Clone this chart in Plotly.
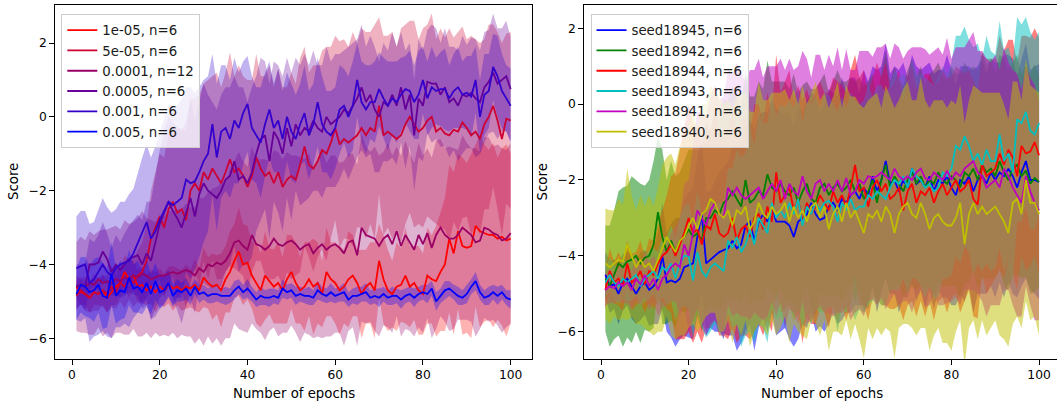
import numpy as np
import plotly.graph_objects as go

epochs = list(range(1, 101))

# ---------------- left panel: learning rates ----------------
lr_labels = ["1e-05, n=6", "5e-05, n=6", "0.0001, n=12", "0.0005, n=6", "0.001, n=6", "0.005, n=6"]

mean_1e05 = [-4.6,-4.75,-4.8,-4.9,-4.75,-4.8,-4.7,-4.9,-4.75,-4.6,
 -4.5,-4.2,-4.4,-4.3,-4.6,-4.55,-4.7,-4.6,-4.75,-4.6,
 -4.7,-4.55,-4.65,-4.6,-4.7,-4.6,-4.65,-4.55,-4.7,-4.35,
 -4.5,-4.6,-4.55,-4.7,-4.4,-4.2,-3.9,-3.65,-4.0,-3.95,
 -4.3,-4.5,-4.7,-4.3,-4.45,-4.6,-4.5,-4.7,-4.4,-4.2,
 -4.5,-4.7,-4.6,-4.4,-4.6,-4.5,-4.8,-4.2,-4.4,-4.5,
 -4.7,-4.6,-4.4,-4.3,-4.5,-4.8,-4.6,-4.5,-4.7,-3.9,
 -4.4,-4.7,-4.8,-4.6,-4.55,-4.3,-4.6,-4.5,-4.7,-4.8,
 -4.3,-4.4,-4.45,-4.2,-4.0,-3.3,-3.7,-3.1,-3.5,-3.55,
 -3.5,-2.95,-3.1,-3.15,-3.2,-3.2,-3.3,-3.25,-3.35,-3.3]
mean_5e05 = [-4.85,-4.7,-4.8,-4.9,-4.75,-4.8,-4.7,-4.8,-4.6,-4.75,
 -4.5,-4.6,-4.4,-4.5,-4.3,-4.2,-3.9,-3.3,-3.0,-2.7,
 -3.0,-2.5,-2.3,-2.6,-2.5,-2.8,-2.0,-1.8,-2.0,-1.5,
 -1.7,-1.4,-1.6,-1.8,-1.5,-1.15,-1.5,-1.4,-1.6,-1.9,
 -1.6,-1.1,-1.4,-1.6,-1.5,-1.8,-1.5,-1.9,-1.7,-1.6,
 -1.7,-1.3,-0.8,-1.3,-1.4,-1.2,-0.9,-1.0,-0.7,-0.3,
 -0.75,-0.6,-0.7,-0.6,-0.5,-0.3,-0.5,-0.3,-0.4,0.3,
 -0.5,-0.4,-0.5,-0.6,-0.5,-0.2,0.0,-0.2,-0.4,-0.3,
 -0.1,0.0,-0.4,-0.3,-0.45,-0.5,-0.35,-0.4,-0.15,-0.3,
 -0.5,-0.4,-0.6,-0.2,0.0,0.3,-0.1,-0.6,-0.05,-0.1]
mean_1e04 = [-4.6,-4.55,-4.6,-4.5,-4.55,-4.4,-4.5,-4.45,-4.5,-4.4,
 -4.45,-4.35,-4.4,-4.3,-4.35,-4.25,-4.3,-4.4,-4.35,-4.3,
 -4.3,-4.25,-4.2,-4.25,-4.2,-4.15,-4.2,-4.3,-4.1,-4.2,
 -4.0,-4.05,-3.95,-4.0,-3.9,-3.7,-3.4,-3.35,-3.5,-3.6,
 -3.2,-3.45,-3.5,-3.6,-3.5,-3.3,-3.45,-3.5,-3.4,-3.35,
 -3.45,-3.6,-3.5,-3.45,-3.7,-3.55,-3.45,-3.6,-3.5,-3.45,
 -3.55,-3.7,-3.4,-3.35,-3.75,-3.0,-3.2,-3.25,-3.3,-3.5,
 -3.3,-3.2,-3.45,-3.1,-3.5,-3.2,-3.4,-3.6,-3.2,-3.45,
 -3.15,-3.55,-3.2,-3.0,-3.2,-3.3,-3.3,-3.2,-3.0,-3.1,
 -3.2,-3.4,-3.35,-3.0,-3.05,-3.15,-3.2,-3.35,-3.3,-3.15]
mean_5e04 = [-4.6,-4.55,-4.6,-4.0,-4.0,-3.95,-3.65,-3.85,-4.2,-4.0,
 -4.15,-4.0,-3.85,-3.8,-3.75,-4.0,-3.7,-3.9,-3.4,-2.9,
 -2.6,-2.3,-2.55,-2.75,-3.0,-2.6,-2.2,-2.7,-2.1,-1.8,
 -2.0,-2.1,-2.2,-2.0,-1.7,-1.6,-1.2,-1.7,-1.6,-1.8,
 -1.5,-1.0,-0.6,-0.5,-1.2,-0.4,-0.6,-1.0,-0.3,-0.8,
 -0.2,-0.5,-0.3,-0.4,-0.1,-0.3,-0.4,0.0,-0.2,-0.1,
 0.0,0.2,0.1,0.3,0.5,0.8,0.4,0.6,0.2,0.0,
 0.4,0.3,0.6,0.3,0.8,0.2,0.6,-0.5,0.5,0.3,
 0.95,0.9,0.9,0.6,0.8,0.4,0.5,0.3,0.6,0.55,
 0.65,0.5,0.4,0.8,0.95,1.2,0.9,1.0,1.1,0.75]
mean_1e03 = [-4.1,-4.05,-4.0,-4.5,-4.4,-4.2,-4.0,-4.2,-4.3,-4.1,
 -4.0,-3.95,-3.9,-3.7,-3.4,-3.1,-2.85,-3.3,-3.1,-2.8,
 -2.55,-2.3,-2.4,-2.3,-2.2,-1.7,-1.8,-1.75,-1.5,-1.2,
 -1.0,-0.2,-1.1,-0.4,-0.3,-0.6,-0.1,-0.3,0.1,0.35,
 -0.3,-0.5,-0.7,-0.2,0.2,-0.3,-0.1,-0.6,0.0,-0.4,
 -0.6,-0.2,0.1,-0.5,-0.2,0.4,-0.2,-0.4,-0.5,-0.3,
 0.2,0.3,0.0,0.3,1.0,0.4,0.2,0.4,0.4,0.75,
 0.5,0.3,0.5,0.4,0.6,0.75,0.7,0.4,0.6,1.0,
 0.5,0.8,0.7,0.75,0.75,0.5,0.7,0.8,0.6,0.65,
 0.55,1.0,0.0,0.6,0.7,1.35,1.1,0.7,0.5,0.3]
mean_5e03 = [-4.8,-4.55,-4.6,-4.75,-4.7,-4.55,-4.85,-4.9,-4.25,-4.85,
 -4.7,-4.75,-4.35,-4.65,-4.6,-4.75,-4.5,-4.8,-4.45,-4.75,
 -4.7,-4.5,-4.85,-4.7,-4.75,-4.65,-4.85,-4.6,-4.8,-4.75,
 -4.85,-4.8,-4.8,-4.85,-4.85,-4.85,-4.7,-4.6,-4.75,-4.65,
 -4.8,-4.95,-4.85,-4.9,-4.9,-4.85,-4.9,-4.65,-4.75,-4.7,
 -4.85,-4.8,-4.85,-4.85,-4.9,-4.7,-4.8,-4.85,-4.75,-4.85,
 -4.8,-4.75,-4.95,-4.85,-4.85,-4.8,-4.75,-4.9,-4.85,-4.9,
 -4.8,-4.9,-4.85,-4.85,-4.95,-4.85,-4.8,-4.9,-4.8,-4.75,
 -4.8,-4.65,-5.0,-4.85,-4.7,-4.65,-4.75,-4.85,-4.9,-4.8,
 -4.6,-4.45,-4.75,-4.9,-4.85,-4.75,-4.85,-4.75,-4.9,-4.95]

std_1e05 = [0.30,0.35,0.30,0.40,0.35,0.30,0.45,0.40,0.35,0.50,
 0.40,0.45,0.50,0.40,0.45,0.50,0.40,0.45,0.55,0.50,
 0.45,0.50,0.60,0.50,0.55,0.60,0.50,0.70,0.60,0.80,
 0.70,0.90,0.80,1.00,0.90,1.10,1.00,1.20,1.10,1.00,
 0.90,1.10,1.00,1.20,0.90,1.00,1.10,0.90,1.20,1.00,
 1.10,0.90,1.20,1.00,1.30,1.10,0.90,1.20,1.00,1.10,
 1.20,1.00,1.30,1.10,0.90,1.20,1.00,1.10,1.30,1.00,
 1.20,1.10,0.90,1.20,1.00,1.30,1.10,1.00,1.20,1.10,
 1.30,1.20,1.50,1.60,1.80,2.00,2.20,2.10,2.40,2.30,
 2.50,2.20,2.60,2.40,2.30,2.50,2.20,2.40,2.60,2.30]
std_5e05 = [0.40,0.35,0.45,0.40,0.50,0.45,0.40,0.50,0.55,0.45,
 0.50,0.60,0.55,0.65,0.70,0.80,1.00,1.30,1.50,1.70,
 1.90,2.10,2.00,2.30,2.20,2.40,2.50,2.30,2.60,2.40,
 2.70,2.50,2.80,2.60,2.70,2.90,2.60,2.80,2.70,2.90,
 2.60,2.80,2.50,2.70,2.90,2.60,2.80,2.70,2.50,2.80,
 2.60,2.90,2.70,2.50,2.80,2.60,2.70,2.90,2.60,2.50,
 2.80,2.70,2.60,2.90,2.50,2.70,2.80,2.60,2.90,2.40,
 2.70,2.60,2.80,2.50,2.90,2.70,2.60,2.80,2.50,2.70,
 2.60,2.80,2.50,2.70,2.60,2.90,2.50,2.70,2.60,2.40,
 2.70,2.50,2.60,2.30,2.50,2.20,2.40,2.60,2.30,2.40]
std_1e04 = [1.20,1.30,1.25,1.40,1.35,1.30,1.45,1.40,1.50,1.45,
 1.40,1.55,1.50,1.45,1.60,1.70,1.55,1.60,1.50,1.65,
 1.60,1.70,1.65,1.75,1.70,1.80,1.75,1.85,1.90,2.00,
 1.95,2.10,2.05,2.20,2.10,2.30,2.20,2.40,2.30,2.25,
 2.40,2.30,2.35,2.45,2.30,2.40,2.50,2.35,2.45,2.30,
 2.40,2.50,2.35,2.45,2.30,2.40,2.55,2.35,2.45,2.40,
 2.30,2.50,2.40,2.35,2.45,2.55,2.40,2.30,2.50,2.45,
 2.35,2.50,2.40,2.30,2.45,2.55,2.40,2.35,2.50,2.40,
 2.30,2.45,2.55,2.40,2.35,2.50,2.45,2.30,2.50,2.40,
 2.35,2.55,2.40,2.45,2.50,2.35,2.45,2.50,2.40,2.45]
std_5e04 = [0.60,0.55,0.65,0.70,0.60,0.75,0.80,0.70,0.65,0.80,
 0.75,0.85,0.90,1.00,1.10,1.20,1.40,1.60,1.80,2.00,
 2.20,2.30,2.40,2.50,2.60,2.50,2.70,2.60,2.50,2.70,
 2.60,2.50,2.40,2.60,2.50,2.40,2.30,2.50,2.40,2.20,
 2.30,2.10,2.20,2.00,2.10,1.90,2.00,2.10,1.90,2.00,
 1.80,1.90,2.00,1.80,1.90,1.70,1.80,1.90,1.70,1.80,
 1.70,1.60,1.80,1.70,1.60,1.70,1.50,1.60,1.70,1.50,
 1.60,1.50,1.70,1.60,1.50,1.60,1.40,1.50,1.60,1.50,
 1.40,1.60,1.50,1.40,1.60,1.50,1.40,1.50,1.60,1.40,
 1.50,1.60,1.40,1.50,1.40,1.60,1.50,1.40,1.50,1.40]
std_1e03 = [1.40,1.50,1.45,1.60,1.55,1.70,1.80,1.75,1.70,1.60,
 1.70,1.65,1.80,1.75,1.90,2.00,2.10,2.20,2.30,2.40,
 2.50,2.60,2.70,2.60,2.70,2.50,2.60,2.40,2.30,2.20,
 2.10,1.90,2.00,1.80,1.70,1.60,1.70,1.50,1.40,1.30,
 1.40,1.30,1.50,1.40,1.30,1.20,1.40,1.30,1.20,1.30,
 1.20,1.10,1.30,1.20,1.10,1.20,1.30,1.10,1.20,1.10,
 1.20,1.00,1.10,1.20,1.00,1.10,1.20,1.00,1.10,1.00,
 1.10,1.20,1.00,1.10,1.00,0.90,1.10,1.00,1.20,0.90,
 1.00,1.10,0.90,1.00,1.10,0.90,1.00,1.10,0.90,1.00,
 1.10,0.90,1.00,1.10,1.00,0.90,1.10,1.00,0.90,1.00]
std_5e03 = [0.70,0.75,0.80,0.70,0.85,0.75,0.90,0.80,0.85,0.75,
 0.80,0.70,0.75,0.65,0.70,0.60,0.65,0.55,0.50,0.45,
 0.40,0.35,0.30,0.30,0.25,0.30,0.25,0.20,0.25,0.20,
 0.20,0.25,0.20,0.20,0.25,0.20,0.25,0.20,0.20,0.25,
 0.20,0.20,0.25,0.20,0.25,0.20,0.20,0.25,0.20,0.20,
 0.25,0.20,0.20,0.25,0.20,0.25,0.20,0.20,0.25,0.20,
 0.20,0.25,0.20,0.20,0.25,0.20,0.25,0.20,0.20,0.25,
 0.20,0.20,0.25,0.20,0.25,0.20,0.20,0.25,0.20,0.20,
 0.25,0.20,0.25,0.20,0.25,0.20,0.20,0.25,0.20,0.25,
 0.20,0.25,0.20,0.20,0.25,0.20,0.25,0.20,0.20,0.25]

# ---------------- right panel: seeds ----------------
seed_labels = ["seed18945, n=6", "seed18942, n=6", "seed18944, n=6",
               "seed18943, n=6", "seed18941, n=6", "seed18940, n=6"]

mean_s45 = [-4.5,-4.8,-4.75,-5.0,-4.7,-4.6,-4.8,-5.0,-4.8,-4.7,
 -4.9,-4.8,-4.6,-4.0,-4.7,-4.65,-4.7,-4.6,-4.3,-4.25,
 -4.2,-3.5,-2.9,-4.2,-4.1,-4.0,-3.9,-3.85,-3.8,-3.6,
 -3.8,-3.7,-3.2,-3.1,-3.6,-3.1,-2.9,-3.1,-2.7,-3.1,
 -3.1,-3.1,-3.2,-3.5,-3.1,-3.0,-2.9,-2.6,-2.9,-3.05,
 -3.0,-2.7,-2.6,-2.8,-2.5,-2.6,-2.4,-2.3,-2.5,-2.2,
 -2.4,-1.9,-2.3,-2.0,-1.5,-2.1,-2.0,-2.3,-2.0,-2.2,
 -1.7,-2.1,-2.0,-2.2,-1.9,-2.3,-2.0,-2.1,-1.9,-2.2,
 -2.4,-2.0,-2.1,-1.9,-2.3,-2.0,-1.9,-2.1,-1.8,-2.0,
 -1.8,-1.9,-1.7,-1.9,-2.2,-1.8,-1.5,-2.0,-2.0,-2.05]
mean_s42 = [-4.6,-4.8,-4.5,-4.2,-4.3,-4.15,-4.1,-4.0,-4.2,-4.05,
 -4.0,-3.7,-2.85,-3.5,-3.9,-3.6,-3.9,-3.6,-3.5,-3.3,
 -3.5,-3.4,-3.6,-3.0,-3.0,-2.8,-2.9,-2.6,-2.5,-2.3,
 -2.5,-2.7,-2.0,-2.6,-2.5,-2.3,-2.4,-1.85,-2.2,-2.3,
 -2.1,-2.3,-2.4,-2.2,-2.6,-2.3,-2.1,-2.5,-2.6,-2.2,
 -2.1,-2.4,-2.2,-2.1,-2.3,-2.2,-2.0,-2.3,-2.1,-2.5,
 -2.3,-2.0,-2.6,-2.0,-1.6,-2.2,-1.9,-2.1,-2.3,-2.0,
 -1.8,-2.1,-1.9,-2.2,-2.0,-2.1,-1.8,-2.0,-2.1,-1.9,
 -2.0,-2.2,-1.8,-1.9,-1.7,-2.0,-1.6,-1.8,-1.7,-1.9,
 -1.5,-1.8,-2.0,-1.7,-1.6,-1.9,-1.75,-2.1,-1.95,-2.05]
mean_s44 = [-4.9,-4.4,-4.7,-4.6,-4.8,-4.2,-4.7,-4.6,-4.4,-4.75,
 -4.4,-4.5,-4.2,-4.0,-3.9,-3.7,-4.0,-3.7,-3.4,-3.0,
 -3.4,-3.3,-3.7,-3.2,-3.3,-2.9,-3.4,-3.5,-3.4,-3.0,
 -3.6,-3.3,-3.2,-3.5,-3.0,-2.9,-3.3,-2.7,-3.1,-1.8,
 -2.6,-2.4,-2.2,-2.8,-2.5,-3.1,-2.6,-2.9,-2.7,-2.4,
 -2.6,-2.8,-2.3,-2.6,-2.4,-2.7,-2.2,-1.6,-2.3,-2.2,
 -2.7,-2.2,-2.0,-2.3,-2.1,-2.5,-2.4,-2.2,-2.8,-2.3,
 -2.1,-2.6,-2.3,-2.4,-2.2,-2.6,-2.3,-2.1,-2.4,-2.2,
 -2.0,-2.3,-2.2,-2.0,-2.5,-2.65,-1.6,-1.9,-1.8,-1.7,
 -1.3,-1.6,-1.2,-1.4,-1.9,-1.1,-1.3,-1.25,-1.0,-1.35]
mean_s43 = [-4.7,-4.5,-4.7,-4.8,-4.6,-4.7,-4.6,-4.5,-4.8,-4.6,
 -4.5,-4.4,-4.6,-4.3,-4.4,-4.2,-4.6,-4.2,-4.0,-4.0,
 -4.65,-3.9,-4.4,-4.55,-4.3,-4.2,-4.3,-4.4,-3.6,-3.8,
 -3.5,-3.9,-3.7,-3.3,-3.7,-3.0,-3.2,-3.4,-2.6,-3.0,
 -2.8,-3.0,-2.6,-2.9,-2.5,-3.2,-2.7,-2.9,-2.6,-2.8,
 -2.6,-2.55,-2.7,-3.1,-2.6,-2.8,-2.5,-2.8,-2.7,-2.7,
 -2.4,-2.5,-2.3,-2.4,-2.5,-2.2,-2.0,-2.1,-1.9,-2.2,
 -1.7,-1.9,-2.0,-2.2,-2.1,-2.3,-2.2,-1.8,-1.9,-1.7,
 -1.1,-1.2,-0.85,-1.1,-1.5,-1.3,-1.6,-1.2,-1.5,-1.5,
 -0.8,-1.5,-1.3,-1.8,-0.4,-0.5,-0.2,-0.7,-0.8,-0.5]
mean_s41 = [-4.9,-4.8,-4.85,-4.7,-4.8,-4.7,-4.9,-4.6,-4.75,-4.5,
 -4.8,-4.6,-4.9,-4.6,-4.5,-4.3,-4.2,-4.3,-3.7,-4.0,
 -3.4,-2.8,-3.0,-3.2,-2.8,-2.6,-2.9,-3.0,-2.2,-2.4,
 -2.2,-2.4,-2.5,-2.4,-2.3,-2.2,-2.5,-2.3,-2.1,-2.3,
 -2.0,-2.5,-2.1,-2.3,-2.4,-1.9,-2.3,-2.5,-2.1,-2.0,
 -2.3,-2.1,-2.3,-2.0,-2.3,-1.95,-2.4,-2.3,-2.0,-2.1,
 -1.9,-1.95,-1.9,-1.8,-1.9,-2.0,-1.7,-1.9,-2.0,-1.9,
 -2.0,-1.8,-1.7,-1.95,-2.0,-1.8,-1.9,-2.0,-1.75,-2.0,
 -1.8,-1.9,-1.7,-1.6,-1.5,-1.8,-1.9,-2.2,-2.1,-2.0,
 -2.2,-1.7,-1.9,-2.2,-2.4,-2.6,-1.9,-2.3,-2.6,-2.8]
mean_s40 = [-4.2,-4.3,-4.2,-4.1,-4.15,-3.7,-4.0,-4.3,-4.1,-4.3,
 -4.2,-4.4,-4.1,-3.8,-3.5,-3.7,-3.9,-3.6,-3.5,-3.2,
 -3.0,-3.3,-2.9,-2.8,-2.5,-2.6,-2.9,-3.0,-2.8,-3.2,
 -2.8,-2.9,-2.7,-3.3,-3.1,-2.6,-2.9,-3.0,-2.7,-2.9,
 -2.8,-2.6,-3.1,-2.7,-3.0,-2.8,-3.1,-2.7,-2.6,-3.0,
 -2.7,-3.3,-2.9,-2.7,-3.1,-2.6,-3.0,-2.8,-3.1,-3.4,
 -2.9,-3.0,-2.8,-3.1,-2.7,-2.9,-3.4,-2.9,-2.7,-2.6,
 -2.9,-3.0,-2.6,-2.9,-3.3,-3.0,-2.9,-3.1,-3.2,-3.2,
 -3.0,-2.6,-3.7,-2.9,-2.6,-2.9,-2.7,-2.9,-2.8,-2.7,
 -2.9,-3.1,-3.4,-2.6,-2.5,-2.9,-2.0,-2.6,-2.6,-2.9]

std_s45 = [0.60,0.70,0.65,0.80,0.75,0.70,0.85,0.80,0.90,0.85,
 0.95,1.00,1.20,1.40,1.30,1.50,1.70,1.60,1.80,1.90,
 2.00,2.10,2.00,1.90,1.80,2.00,2.10,2.20,2.30,2.50,
 2.70,2.60,2.80,2.70,2.90,2.80,2.70,2.90,2.80,3.00,
 2.90,2.80,3.00,2.90,3.10,2.80,3.00,2.90,3.10,2.80,
 3.00,3.10,2.90,3.00,3.20,2.90,3.10,3.00,2.80,3.10,
 3.00,2.90,3.20,3.00,3.10,2.90,3.00,3.20,3.10,2.90,
 3.00,3.10,2.90,3.20,3.00,3.10,2.90,3.00,3.20,3.10,
 2.90,3.00,3.10,2.90,3.20,3.00,3.10,2.90,3.00,3.10,
 2.90,3.20,3.00,3.10,2.90,3.00,3.10,2.90,3.00,3.10]
std_s42 = [1.40,1.60,1.70,1.90,2.10,2.00,2.20,2.00,2.10,1.90,
 2.00,2.20,2.00,2.30,1.90,2.10,2.00,1.80,2.00,2.10,
 2.30,2.20,2.40,2.50,2.30,2.60,2.50,2.70,2.60,2.80,
 2.70,2.60,2.90,2.80,2.70,2.90,2.80,3.00,2.80,2.90,
 2.70,2.90,2.80,3.00,2.90,2.80,2.70,2.90,3.00,2.80,
 2.90,2.70,2.80,3.00,2.90,2.80,2.70,2.90,2.80,3.00,
 2.90,2.80,2.70,2.90,3.00,2.80,2.90,2.70,2.80,2.90,
 3.00,2.80,2.90,2.70,2.80,3.00,2.90,2.80,2.70,2.90,
 2.80,3.00,2.90,2.80,2.70,2.90,3.00,2.80,2.90,2.70,
 2.80,3.00,2.90,2.80,2.90,2.70,2.80,2.90,3.00,2.80]
std_s44 = [0.50,0.60,0.55,0.70,0.65,0.60,0.75,0.70,0.80,0.75,
 0.85,0.90,1.00,1.20,1.50,1.80,2.20,2.50,2.80,3.00,
 2.90,2.70,2.60,2.70,2.60,2.80,2.70,2.60,2.80,2.90,
 2.70,2.80,2.90,2.70,3.00,2.90,2.80,3.00,2.90,3.10,
 2.90,3.00,3.10,2.90,3.00,3.20,3.00,2.90,3.10,3.00,
 2.90,3.10,3.00,3.20,2.90,3.00,3.10,2.90,3.00,3.10,
 3.00,2.90,3.10,3.00,3.20,2.90,3.00,3.10,2.90,3.00,
 3.10,3.00,2.90,3.20,3.00,3.10,2.90,3.00,3.10,2.90,
 3.00,3.20,3.00,2.90,3.10,3.00,2.90,3.10,3.00,2.90,
 3.10,3.00,2.90,3.10,3.00,2.90,3.10,3.00,3.00,3.10]
std_s43 = [0.40,0.45,0.50,0.45,0.55,0.50,0.60,0.55,0.50,0.60,
 0.65,0.60,0.70,0.80,0.90,1.00,1.10,1.20,1.30,1.40,
 1.50,1.60,1.50,1.60,1.70,1.60,1.70,1.80,1.90,2.10,
 2.30,2.50,2.40,2.70,2.60,2.80,2.70,2.90,2.80,2.70,
 2.80,2.90,2.70,2.80,2.90,2.70,2.80,2.90,2.80,2.70,
 2.90,2.80,2.70,2.90,2.80,2.70,2.80,2.90,2.70,2.80,
 2.90,2.70,2.80,2.90,2.80,2.70,2.90,2.80,2.70,2.80,
 2.90,2.70,2.80,2.90,2.70,2.80,2.90,2.80,2.70,2.80,
 2.90,3.00,2.90,2.80,3.00,2.90,2.80,3.00,2.90,2.80,
 3.00,2.90,2.80,2.90,2.70,2.60,2.50,2.60,2.50,2.40]
std_s41 = [0.40,0.45,0.40,0.50,0.45,0.55,0.50,0.60,0.55,0.60,
 0.65,0.60,0.70,0.75,0.80,0.90,1.00,1.30,1.60,2.00,
 2.30,2.60,2.80,2.90,3.00,3.10,3.00,3.20,3.10,3.20,
 3.30,3.20,3.10,3.30,3.20,3.40,3.20,3.30,3.10,3.30,
 3.20,3.40,3.30,3.20,3.40,3.30,3.50,3.20,3.40,3.30,
 3.20,3.40,3.30,3.50,3.20,3.40,3.30,3.20,3.40,3.50,
 3.30,3.20,3.40,3.30,3.50,3.20,3.30,3.40,3.20,3.30,
 3.50,3.30,3.20,3.40,3.30,3.20,3.40,3.30,3.50,3.20,
 3.30,3.40,3.20,3.30,3.40,3.20,3.30,3.40,3.20,3.30,
 3.10,3.20,3.00,3.10,3.20,3.00,2.90,3.00,3.10,2.90]
std_s40 = [1.45,1.50,1.40,1.60,1.50,2.00,1.60,1.50,1.70,1.60,
 1.80,1.70,1.90,2.20,2.10,2.40,2.30,2.50,2.60,2.70,
 2.80,2.70,2.90,2.80,3.00,2.90,3.10,3.00,2.90,3.10,
 3.00,3.20,3.00,3.10,2.90,3.20,3.00,3.10,3.00,3.20,
 3.10,3.00,3.20,3.10,3.00,3.30,3.10,3.00,3.20,3.10,
 3.00,3.20,3.10,3.30,3.00,3.10,3.20,3.00,3.10,3.30,
 3.00,3.20,3.10,3.00,3.20,3.10,3.30,3.00,3.10,3.20,
 3.00,3.10,3.30,3.00,3.20,3.10,3.00,3.20,3.10,3.30,
 3.00,3.10,3.20,3.00,3.10,3.30,3.00,3.20,3.10,3.00,
 3.20,3.10,3.00,3.20,3.10,3.00,3.20,3.10,3.00,3.20]

lr_means = [mean_1e05, mean_5e05, mean_1e04, mean_5e04, mean_1e03, mean_5e03]
lr_stds = [std_1e05, std_5e05, std_1e04, std_5e04, std_1e03, std_5e03]
lr_colors = [(255, 0, 0), (204, 0, 51), (153, 0, 102), (102, 0, 153), (51, 0, 204), (0, 0, 255)]

seed_means = [mean_s45, mean_s42, mean_s44, mean_s43, mean_s41, mean_s40]
seed_stds = [std_s45, std_s42, std_s44, std_s43, std_s41, std_s40]
seed_colors = [(0, 0, 255), (0, 128, 0), (255, 0, 0), (0, 191, 191), (191, 0, 191), (191, 191, 0)]

for arr in lr_means + lr_stds + seed_means + seed_stds:
    assert len(arr) == 100, len(arr)

FONT = "DejaVu Sans"
TICK_FS = 12.3
TEXT_FS = 13.3

fig = go.Figure()


def add_panel(means, stds, colors, labels, alpha, xa, ya, legend):
    x = np.array(epochs)
    for m, s, c in zip(means, stds, colors):
        m = np.array(m)
        s = np.array(s)
        up = m + s
        lo = m - s
        fig.add_trace(go.Scatter(
            x=np.concatenate([x, x[::-1]]), y=np.concatenate([up, lo[::-1]]),
            fill="toself", fillcolor=f"rgba({c[0]},{c[1]},{c[2]},{alpha})",
            line=dict(width=0), mode="lines", showlegend=False, hoverinfo="skip",
            xaxis=xa, yaxis=ya))
    for m, c, lab in zip(means, colors, labels):
        fig.add_trace(go.Scatter(
            x=x, y=m, mode="lines", name=lab,
            line=dict(color=f"rgb({c[0]},{c[1]},{c[2]})", width=1.8),
            xaxis=xa, yaxis=ya, legend=legend))


add_panel(lr_means, lr_stds, lr_colors, lr_labels, 0.3, "x", "y", "legend")
add_panel(seed_means, seed_stds, seed_colors, seed_labels, 0.5, "x2", "y2", "legend2")

W, H = 1057, 402
top_px, bot_px = 5, 359
ydom = [1 - bot_px / H, 1 - top_px / H]

axis_common = dict(showgrid=False, zeroline=False, showline=True, linecolor="black", linewidth=1,
                   ticks="outside", ticklen=4.5, tickwidth=1, tickcolor="black",
                   tickfont=dict(family=FONT, size=TICK_FS, color="black"))

legend_common = dict(xanchor="left", yanchor="top",
                     bgcolor="rgba(255,255,255,0.8)", bordercolor="#cccccc", borderwidth=1,
                     font=dict(family=FONT, size=TEXT_FS, color="#1a1a1a"), tracegroupgap=0)

fig.update_layout(
    width=W, height=H,
    margin=dict(l=0, r=0, t=0, b=0),
    paper_bgcolor="white", plot_bgcolor="white",
    font=dict(family=FONT, size=TEXT_FS, color="black"),
    xaxis=dict(domain=[54.7 / W, 532.4 / W], range=[-3.95, 104.95], tickvals=[0, 20, 40, 60, 80, 100],
               mirror=True, anchor="y", **axis_common),
    yaxis=dict(domain=ydom, range=[-6.56, 3.03], tickvals=[-6, -4, -2, 0, 2], mirror=True,
               anchor="x", **axis_common),
    xaxis2=dict(domain=[583.7 / W, 1.0], range=[-3.95, 104.1], tickvals=[0, 20, 40, 60, 80, 100],
                mirror=True, anchor="y2", **axis_common),
    yaxis2=dict(domain=ydom, range=[-6.72, 2.614], tickvals=[-6, -4, -2, 0, 2], mirror=False,
                anchor="x2", **axis_common),
    legend=dict(x=61.3 / W, y=1 - 14 / H, **legend_common),
    legend2=dict(x=590.5 / W, y=1 - 14 / H, **legend_common),
    showlegend=True,
)

ann_font = dict(family=FONT, size=TEXT_FS, color="black")
fig.add_annotation(text="Score", x=13 / W, y=1 - 182 / H, xref="paper", yref="paper",
                   showarrow=False, textangle=-90, font=ann_font, xanchor="center", yanchor="middle")
fig.add_annotation(text="Score", x=542.4 / W, y=1 - 182 / H, xref="paper", yref="paper",
                   showarrow=False, textangle=-90, font=ann_font, xanchor="center", yanchor="middle")
fig.add_annotation(text="Number of epochs", x=293.6 / W, y=1 - 393 / H, xref="paper", yref="paper",
                   showarrow=False, font=ann_font, xanchor="center", yanchor="middle")
fig.add_annotation(text="Number of epochs", x=822.1 / W, y=1 - 393 / H, xref="paper", yref="paper",
                   showarrow=False, font=ann_font, xanchor="center", yanchor="middle")

fig.write_html("out.html")
